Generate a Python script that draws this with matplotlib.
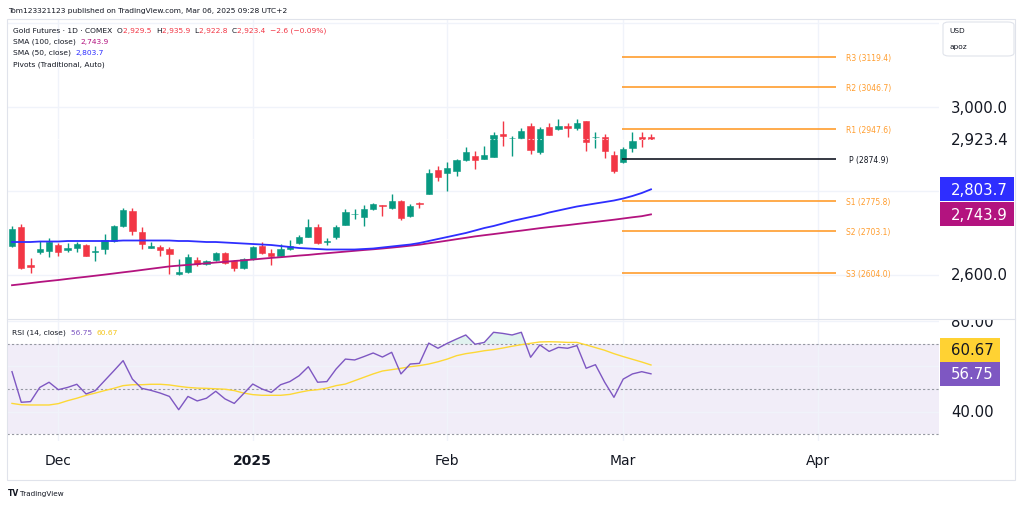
import numpy as np
import matplotlib.pyplot as plt
from matplotlib.patches import Rectangle, FancyBboxPatch
from matplotlib.lines import Line2D

# --------------------------
# dados
# --------------------------
opens = [2668, 2714, 2623, 2654, 2657, 2671, 2659, 2664, 2671, 2654,
         2661, 2680, 2716, 2752, 2702, 2664, 2666, 2661, 2602, 2606,
         2635, 2625, 2635, 2652, 2633, 2616, 2637, 2668, 2652, 2645,
         2661, 2676, 2690, 2714, 2679, 2690, 2719, 2744, 2738, 2757,
         2765, 2759, 2776, 2740, 2770, 2792, 2850, 2843, 2847, 2874,
         2883, 2876, 2881, 2936, 2925, 2926, 2955, 2893, 2952, 2948,
         2955, 2950, 2967, 2928, 2929, 2886, 2869, 2902, 2929, 2929.5]
highs = [2716, 2721, 2640, 2680, 2688, 2676, 2676, 2678, 2673, 2668,
         2697, 2719, 2759, 2759, 2714, 2678, 2671, 2666, 2637, 2649,
         2642, 2635, 2654, 2654, 2635, 2640, 2668, 2678, 2661, 2673,
         2683, 2695, 2733, 2721, 2687, 2719, 2757, 2757, 2766, 2771,
         2766, 2792, 2778, 2769, 2773, 2852, 2859, 2869, 2876, 2905,
         2895, 2907, 2940, 2967, 2931, 2950, 2962, 2952, 2962, 2971,
         2962, 2971, 2967, 2940, 2936, 2895, 2905, 2940, 2940, 2935.9]
lows = [2666, 2614, 2604, 2649, 2642, 2645, 2654, 2654, 2644, 2633,
        2649, 2678, 2714, 2695, 2661, 2663, 2645, 2601, 2599, 2604,
        2621, 2623, 2633, 2625, 2609, 2614, 2635, 2649, 2623, 2642,
        2659, 2673, 2690, 2673, 2671, 2685, 2719, 2733, 2716, 2754,
        2740, 2757, 2730, 2738, 2759, 2792, 2823, 2800, 2835, 2871,
        2852, 2876, 2881, 2907, 2883, 2924, 2888, 2888, 2933, 2945,
        2929, 2945, 2895, 2902, 2878, 2843, 2866, 2893, 2905, 2922.8]
closes = [2709, 2616, 2618, 2661, 2678, 2654, 2664, 2673, 2645, 2657,
          2683, 2716, 2754, 2704, 2673, 2668, 2659, 2649, 2606, 2642,
          2625, 2633, 2652, 2628, 2616, 2637, 2666, 2652, 2645, 2661,
          2668, 2690, 2714, 2676, 2680, 2714, 2750, 2746, 2757, 2769,
          2764, 2776, 2735, 2764, 2768, 2843, 2833, 2855, 2874, 2893,
          2874, 2886, 2933, 2931, 2926, 2943, 2897, 2948, 2933, 2955,
          2950, 2962, 2917, 2929, 2895, 2847, 2900, 2919, 2924, 2923.4]

sma50 = [2678.0, 2678.0, 2678.0, 2679.2, 2679.2, 2679.2, 2680.4, 2680.4, 2680.4, 2680.4,
         2680.4, 2680.4, 2681.6, 2681.6, 2681.6, 2681.6, 2681.6, 2681.6, 2680.4, 2680.4,
         2679.2, 2678.0, 2678.0, 2676.8, 2675.6, 2674.4, 2673.2, 2672.0, 2670.8, 2668.5,
         2666.1, 2663.7, 2662.5, 2661.3, 2660.1, 2660.1, 2660.1, 2660.1, 2661.3, 2662.5,
         2664.9, 2667.3, 2669.7, 2672.0, 2675.6, 2680.4, 2685.2, 2689.9, 2694.7, 2699.5,
         2705.4, 2711.4, 2716.2, 2722.1, 2728.1, 2732.9, 2737.7, 2742.4, 2748.4, 2753.2,
         2758.0, 2762.7, 2766.3, 2769.9, 2773.4, 2777.0, 2781.8, 2787.8, 2794.9, 2803.7]
sma100 = [2574.9, 2577.3, 2579.9, 2582.6, 2585.0, 2587.3, 2590.0, 2592.6, 2595.0, 2597.6,
          2600.2, 2602.9, 2605.7, 2608.3, 2611.2, 2614.1, 2616.9, 2619.8, 2621.7, 2623.4,
          2625.3, 2627.2, 2629.1, 2630.8, 2632.7, 2634.3, 2636.2, 2638.2, 2640.1, 2641.7,
          2643.6, 2645.6, 2647.2, 2649.4, 2651.3, 2653.2, 2655.1, 2657.0, 2658.9, 2660.6,
          2662.5, 2664.6, 2666.8, 2669.2, 2671.6, 2674.9, 2678.0, 2681.3, 2684.7, 2688.0,
          2691.4, 2694.2, 2696.9, 2699.7, 2702.6, 2705.2, 2708.1, 2711.0, 2713.6, 2716.0,
          2718.3, 2721.0, 2723.6, 2726.0, 2728.6, 2731.2, 2734.1, 2737.0, 2739.6, 2743.9]

rsi = [57.7, 44.1, 44.4, 50.7, 53.0, 49.7, 50.7, 52.1, 47.8, 49.3,
       53.7, 58.1, 62.6, 54.4, 50.3, 49.4, 48.2, 46.7, 40.8, 46.7,
       44.7, 45.9, 49.0, 45.6, 43.6, 47.9, 52.2, 50.0, 48.5, 51.9,
       53.3, 55.9, 59.9, 53.0, 53.3, 58.9, 63.3, 62.9, 64.4, 66.0,
       64.2, 66.3, 56.7, 61.1, 61.4, 70.4, 68.1, 70.3, 72.2, 74.0,
       69.9, 70.7, 75.2, 74.7, 74.0, 75.2, 64.1, 69.6, 66.7, 68.5,
       68.1, 69.3, 59.2, 60.8, 53.0, 46.3, 54.4, 56.7, 57.7, 56.75]
rsi_ma = [43.6, 43.0, 42.9, 42.9, 42.9, 43.5, 44.8, 45.9, 47.2, 48.2,
          49.3, 50.3, 51.5, 51.9, 51.9, 52.1, 52.1, 51.8, 51.2, 50.7,
          50.4, 50.3, 50.1, 49.9, 49.3, 48.2, 47.5, 47.2, 47.2, 47.2,
          47.6, 48.5, 49.3, 49.7, 50.4, 51.5, 52.2, 53.7, 55.2, 56.7,
          58.0, 58.6, 59.2, 59.9, 60.4, 61.1, 62.1, 63.3, 64.8, 65.7,
          66.3, 67.0, 67.5, 68.2, 69.0, 69.7, 70.3, 70.9, 71.0, 70.9,
          70.7, 70.7, 69.6, 68.4, 67.2, 65.7, 64.4, 63.2, 62.0, 60.67]

pivot_names = ["R3", "R2", "R1", "P", "S1", "S2", "S3"]
pivot_values = [3119.4, 3046.7, 2947.6, 2874.9, 2775.8, 2703.1, 2604.0]
pivot_first_bar = 67          # primeiro pregão de março
pivot_last_bar = 90

month_labels = ["Dec", "2025", "Feb", "Mar", "Apr"]
month_bars = [6, 27, 48, 67, 88]     # primeiro pregão de cada mês

price_grid = [2600, 2800, 3000, 3200]
price_ticks = [3000, 2600]
rsi_grid = [40, 60, 80]
rsi_ticks = [80, 40]

# --------------------------
# estilo
# --------------------------
W, H = 1024, 506
UP, DOWN = "#089981", "#f23645"
BLUE, MAGENTA = "#2e2eff", "#b3137f"
PURPLE, YELLOW = "#7e57c2", "#fdd835"
ORANGE = "#ff9d2e"
TXT = "#131722"
GRID = "#f0f3fa"
BORDER = "#e0e3eb"
plt.rcParams["font.family"] = "DejaVu Sans"

XLIM = (0.46, 101.1)
PRICE_LIM = (2494.3, 3207.7)
RSI_LIM = (26.9, 81.1)
SMALL = 5.4


def px_rect(l, t, r, b):
    return [l / W, 1 - b / H, (r - l) / W, (b - t) / H]


def blank(ax):
    ax.set_axis_off()
    ax.patch.set_alpha(0)


fig = plt.figure(figsize=(W / 100, H / 100), dpi=100)
fig.patch.set_facecolor("white")
renderer = fig.canvas.get_renderer()


def seg_text(x, y, parts, size, weight="normal"):
    """Escreve vários trechos coloridos em sequência (x, y em pixels)."""
    for s, c in parts:
        t = fig.text(x / W, 1 - y / H, s, color=c, fontsize=size, va="center",
                     ha="left", fontweight=weight)
        bb = t.get_window_extent(renderer=renderer)
        x = bb.x1


bars = np.arange(1, len(closes) + 1)
o, h, l, c = map(np.asarray, (opens, highs, lows, closes))
col = np.where(c >= o, UP, DOWN)

# --------------------------
# painel de preço
# --------------------------
ax = fig.add_axes(px_rect(7, 21, 939, 320))
blank(ax)
ax.set_xlim(*XLIM)
ax.set_ylim(*PRICE_LIM)
for g in price_grid:
    ax.axhline(g, color=GRID, lw=1, zorder=0)
for b in month_bars:
    ax.axvline(b, color=GRID, lw=1, zorder=0)

ax.vlines(bars, l, h, colors=col, lw=1, zorder=2)
body_lo = np.minimum(o, c)
body_h = np.maximum(np.abs(c - o), 1.3)
ax.bar(bars, body_h, bottom=body_lo, width=0.68, color=col, edgecolor=col,
       lw=0.4, zorder=2)

ax.plot(bars, sma100, color=MAGENTA, lw=1.3, zorder=3)
ax.plot(bars, sma50, color=BLUE, lw=1.3, zorder=3)
ax.axhline(closes[-1], color="white", lw=0.8, ls=(0, (1.5, 2)), alpha=0.7, zorder=4)

for name, v in zip(pivot_names, pivot_values):
    pc = TXT if name == "P" else ORANGE
    ax.hlines(v, pivot_first_bar - 0.1, pivot_last_bar, color=pc, lw=1.2, zorder=2)
    ax.text(pivot_last_bar + 3.5, v, f"{name} ({v:.1f})", color=pc, fontsize=5.5,
            va="center", ha="center")

# escala de preço
sax = fig.add_axes(px_rect(939, 21, 1015, 320))
blank(sax)
sax.set_xlim(0, 1)
sax.set_ylim(*PRICE_LIM)
for t in price_ticks:
    sax.text(0.158, t, f"{t:,.1f}", fontsize=10.7, color=TXT, va="center",
             ha="left", clip_on=True)
sax.text(0.158, closes[-1], f"{closes[-1]:,.1f}", fontsize=10.9, color=TXT,
         va="center", ha="left", clip_on=True)
box_h = 24 * (PRICE_LIM[1] - PRICE_LIM[0]) / 299
for v, bc in [(sma50[-1], BLUE), (sma100[-1], MAGENTA)]:
    sax.add_patch(Rectangle((0.013, v - box_h / 2), 0.974, box_h, color=bc, lw=0))
    sax.text(0.158, v, f"{v:,.1f}", fontsize=10.7, color="white", va="center", ha="left")

fig.patches.append(FancyBboxPatch((943 / W, 1 - 57 / H), 71 / W, 34 / H,
                                  boxstyle="round,pad=0,rounding_size=0.006",
                                  transform=fig.transFigure, fc="white", ec=BORDER, lw=0.8))
fig.text(949 / W, 1 - 31 / H, "USD", fontsize=5.3, color=TXT, va="center")
fig.text(949 / W, 1 - 47 / H, "apoz", fontsize=5.3, color=TXT, va="center")

# --------------------------
# painel RSI
# --------------------------
rax = fig.add_axes(px_rect(7, 320, 939, 442))
blank(rax)
rax.set_xlim(*XLIM)
rax.set_ylim(*RSI_LIM)
rax.axhspan(30, 70, color=PURPLE, alpha=0.1, lw=0, zorder=0)
for g in rsi_grid:
    rax.axhline(g, color=GRID, lw=1, zorder=0)
for b in month_bars:
    rax.axvline(b, color=GRID, lw=1, zorder=0)
for lvl in (70, 50, 30):
    rax.axhline(lvl, color="#9598a1", lw=0.8, ls=(0, (2, 2)), zorder=1)
r = np.asarray(rsi)
rax.fill_between(bars, r, 70, where=r > 70, interpolate=True, color=UP,
                 alpha=0.12, lw=0, zorder=1)
rax.plot(bars, rsi_ma, color=YELLOW, lw=1, zorder=2)
rax.plot(bars, rsi, color=PURPLE, lw=1, zorder=3)

srax = fig.add_axes(px_rect(939, 320, 1015, 442))
blank(srax)
srax.set_xlim(0, 1)
srax.set_ylim(*RSI_LIM)
for t in rsi_ticks:
    srax.text(0.158, t, f"{t:.2f}", fontsize=10.7, color=TXT, va="center",
              ha="left", clip_on=True)
rbox_h = 24 * (RSI_LIM[1] - RSI_LIM[0]) / 122
srax.add_patch(Rectangle((0.013, rsi[-1] - rbox_h / 2), 0.79, rbox_h, color=PURPLE, lw=0))
srax.text(0.158, rsi[-1], f"{rsi[-1]:.2f}", fontsize=10.7, color="white", va="center")
ma_pos = rsi[-1] + rbox_h
srax.add_patch(Rectangle((0.013, ma_pos - rbox_h / 2), 0.79, rbox_h, color="#ffd233", lw=0))
srax.text(0.158, ma_pos, f"{rsi_ma[-1]:.2f}", fontsize=10.7, color=TXT, va="center")

# --------------------------
# eixo de tempo
# --------------------------
tax = fig.add_axes(px_rect(7, 442, 939, 481))
blank(tax)
tax.set_xlim(*XLIM)
tax.set_ylim(0, 1)
for b, lab in zip(month_bars, month_labels):
    tax.text(b, 0.5, lab, fontsize=10, color=TXT, ha="center", va="center",
             fontweight="bold" if lab.isdigit() else "normal")

# --------------------------
# molduras e textos
# --------------------------
fig.patches.append(Rectangle((7 / W, 1 - 481 / H), 1008 / W, 461 / H,
                             transform=fig.transFigure, fill=False, ec=BORDER, lw=0.8))
fig.lines.append(Line2D([7 / W, 1015 / W], [1 - 320 / H] * 2,
                        transform=fig.transFigure, color=BORDER, lw=0.8))

seg_text(8, 11, [("Tom123321123 published on TradingView.com, Mar 06, 2025 09:28 UTC+2", TXT)], 5.4)
red_parts = [("Gold Futures · 1D · COMEX  ", TXT)]
for k, v in zip("OHLC", [opens[-1], highs[-1], lows[-1], closes[-1]]):
    red_parts += [(k, TXT), (f"{v:,.1f}  ", DOWN)]
red_parts.append(("−2.6 (−0.09%)", DOWN))
seg_text(13, 31, red_parts, SMALL)
seg_text(13, 42, [("SMA (100, close)  ", TXT), (f"{sma100[-1]:,.1f}", MAGENTA)], SMALL)
seg_text(13, 53, [("SMA (50, close)  ", TXT), (f"{sma50[-1]:,.1f}", BLUE)], SMALL)
seg_text(13, 65, [("Pivots (Traditional, Auto)", TXT)], SMALL)
seg_text(12, 333, [("RSI (14, close)  ", TXT), (f"{rsi[-1]:.2f}  ", PURPLE),
                   (f"{rsi_ma[-1]:.2f}", "#f5c518")], SMALL)

seg_text(8, 494, [("TV", TXT)], 5.5, weight="bold")
seg_text(20, 494, [("TradingView", TXT)], 5.2)

fig.savefig("out.png", dpi=100, facecolor="white")
